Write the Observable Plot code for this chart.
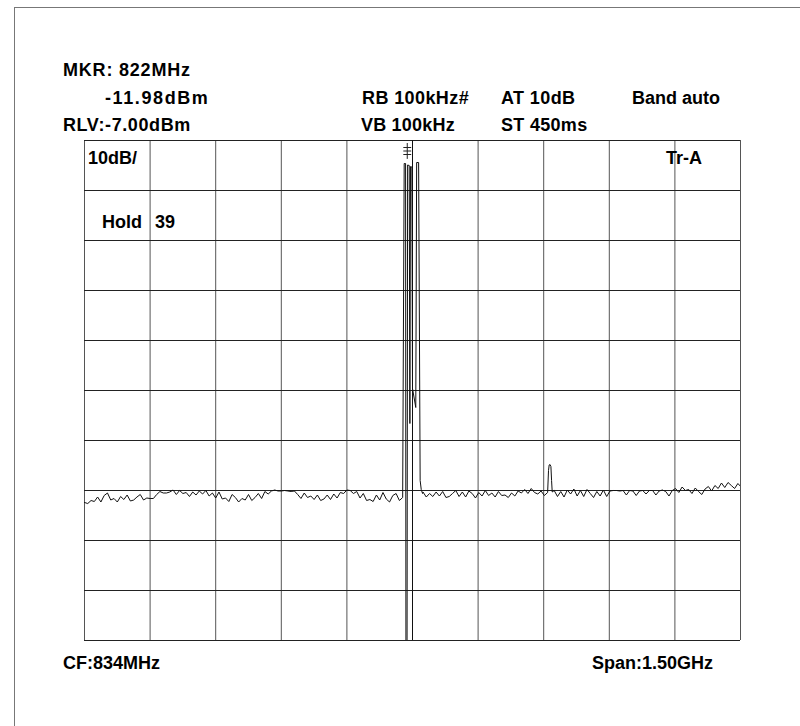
<!DOCTYPE html>
<html>
<head>
<meta charset="utf-8">
<script src="https://cdn.jsdelivr.net/npm/d3@7"></script>
<script src="https://cdn.jsdelivr.net/npm/@observablehq/plot@0.6"></script>
<style>
  html, body { margin: 0; padding: 0; background: #fff; }
  #wrap { position: relative; width: 800px; height: 726px; overflow: hidden; background: #fff; }
  #border { position: absolute; left: 14px; top: 7px; width: 800px; height: 740px;
            border-left: 1px solid #777; border-top: 1px solid #777; }
  .lbl { position: absolute; font-family: "Liberation Sans", Arial, sans-serif; font-weight: bold;
         font-size: 18px; line-height: 1; color: #000; white-space: nowrap; }
  #chart { position: absolute; left: 0; top: 0; }
</style>
</head>
<body>
<div id="wrap">
  <div id="border"></div>
  <div id="chart"></div>
</div>
<script>
// ---- Instrument settings ----
const centerFreqMHz = 834;
const spanMHz = 1500;
const refLevelDbm = -7;
const dbPerDiv = 10;
const markerFreqMHz = 822;
const markerLevelDbm = -11.98;

// Grid lines (10 divisions each way)
const gridFreqs = [84, 234, 384, 534, 684, 834, 984, 1134, 1284, 1434, 1584];
const gridLevels = [-7, -17, -27, -37, -47, -57, -67, -77, -87, -97, -107];

// Text labels
const headerLabels = [
  {text: "MKR: 822MHz", left: 63, top: 61, ls: 0.8},
  {text: "-11.98dBm", left: 105, top: 89, ls: 1.6},
  {text: "RB 100kHz#", left: 362, top: 89, ls: 0.4},
  {text: "AT 10dB", left: 501, top: 89, ls: 0.4},
  {text: "Band auto", left: 632, top: 89, ls: 0},
  {text: "RLV:-7.00dBm", left: 63, top: 116, ls: 0.6},
  {text: "VB 100kHz", left: 361, top: 116, ls: 0.2},
  {text: "ST 450ms", left: 501, top: 116, ls: 0.3},
  {text: "10dB/", left: 88, top: 149, ls: 0},
  {text: "Tr-A", left: 666, top: 149, ls: 0},
  {text: "Hold", left: 102, top: 213, ls: 0},
  {text: "39", left: 155, top: 213, ls: 0},
  {text: "CF:834MHz", left: 63, top: 654, ls: 0},
  {text: "Span:1.50GHz", left: 592, top: 654, ls: 0}
];

// ---- Trace: noise floor left of the carrier (sweep start 84 MHz, step 7.5 MHz) ----
const leftStartMHz = 84;
const sweepStepMHz = 7.5;
const leftNoise = [
  -79.4, -79.6, -79.0, -79.2, -78.3, -79.3, -78.0,
  -77.5, -78.9, -78.6, -79.3, -78.2, -78.8,
  -77.9, -79.1, -78.9, -78.3, -77.8, -78.9, -78.5,
  -78.6, -78.6, -77.8,
  -77.2, -77.5, -77.5, -77.3,
  -76.9, -77.8, -77.0, -77.6, -77.4, -78.2, -77.3, -77.9, -77.1, -77.7, -77.0, -78.1, -77.5,
  -78.5, -77.3, -78.7, -78.5, -79.2, -77.8, -78.4, -79.3, -78.6, -78.9, -77.8, -79.0, -78.4, -77.6, -78.6, -77.2, -77.7, -77.1,
  -76.9, -77.1, -77.1, -77.0, -77.1, -77.2, -77.1,
  -77.8, -78.6, -77.5, -78.4, -78.1, -78.8,
  -77.9, -79.0, -78.7, -77.9, -78.8, -77.7, -78.5, -77.4, -77.6,
  -76.9, -77.0, -77.6,
  -77.2, -78.5, -77.6, -79.0, -78.8, -79.2, -77.9, -78.9, -77.4, -78.7, -79.3, -78.0, -77.6,
  -79.0, -78.4
];

// Carrier burst around the centre (off-screen values drop below the floor)
const carrierFreqs = [815.0, 818.2, 819.0, 821.5, 822.8, 826.5, 828.0, 829.5, 832.5, 834.0, 841.5, 843.5, 848.0, 851.5, 854.0, 857.0];
const carrierLevels = [-11.6, -11.6, -115, -115, -11.9, -12.0, -63.6, -12.2, -12.3, -56.6, -60.4, -11.4, -11.4, -75.0, -76.8, -77.6];

// Noise floor right of the carrier
const rightStartMHz = 858;
const rightNoise = [
  -77.3, -78.3, -77.6, -78.2, -77.3,
  -78.1, -77.2, -78.4, -78.2, -77.6, -77.0, -78.2, -77.3, -78.3, -77.1, -77.6, -78.5, -77.4, -78.1, -77.0, -78.0,
  -77.5, -78.3, -77.2, -78.0, -77.9, -78.4, -77.5, -78.1, -77.1, -77.5, -76.8, -77.6, -76.6, -77.4,
  -77.7, -77.1, -78.0, -77.5, -77.4, -77.0, -78.2, -77.2, -78.3, -76.9,
  -77.7, -76.7, -78.1, -77.0, -78.2, -76.8, -77.6, -78.4, -77.2, -78.1, -76.9, -78.2,
  -77.1, -77.0, -77.0, -77.1, -77.0, -77.9, -77.0, -77.1, -78.0, -77.1, -77.0, -77.7, -77.0, -77.0, -77.9, -77.1, -76.9, -77.2, -78.1, -77.0,
  -76.6, -77.4, -76.3, -77.0, -76.8, -77.6, -76.5, -77.2, -77.8, -76.7, -76.2, -77.1, -76.0, -76.6, -75.5, -76.4, -75.4, -76.0, -76.6, -75.6, -76.3
];

// Small spurious signal near 1.15 GHz
const spurFreqs = [1143, 1145, 1146.5, 1148.5, 1150.5, 1152, 1153.5];
const spurLevels = [-77.4, -73.0, -71.9, -71.8, -72.2, -75.0, -77.3];

// ---- Build table ----
const trace = [];
leftNoise.forEach((v, i) => trace.push({f: leftStartMHz + i * sweepStepMHz, dbm: v}));
carrierFreqs.forEach((f, i) => trace.push({f, dbm: carrierLevels[i]}));
rightNoise.forEach((v, i) => {
  const f = rightStartMHz + i * sweepStepMHz;
  if (f < spurFreqs[0] || f > spurFreqs[spurFreqs.length - 1]) trace.push({f, dbm: v});
});
spurFreqs.forEach((f, i) => trace.push({f, dbm: spurLevels[i]}));
trace.sort((a, b) => a.f - b.f);

const fMin = centerFreqMHz - spanMHz / 2;
const fMax = centerFreqMHz + spanMHz / 2;
const yMin = refLevelDbm - 10 * dbPerDiv;

// Marker glyph (three bars with a stem, drawn just above the marker peak)
const markerBars = [-8.4, -9.1, -9.8];

const chart = Plot.plot({
  width: 800,
  height: 726,
  marginLeft: 84,
  marginRight: 60,
  marginTop: 140,
  marginBottom: 86,
  style: {background: "transparent", overflow: "visible"},
  x: {domain: [fMin, fMax], axis: null},
  y: {domain: [yMin, refLevelDbm], axis: null},
  marks: [
    Plot.ruleX(gridFreqs, {stroke: "#555", strokeWidth: 1}),
    Plot.ruleY(gridLevels, {stroke: "#222", strokeWidth: 1}),
    Plot.ruleX([centerFreqMHz], {stroke: "#111", strokeWidth: 1}),
    Plot.line(trace, {x: "f", y: "dbm", stroke: "#111", strokeWidth: 1, clip: true, curve: "linear"}),
    Plot.link(markerBars, {x1: () => markerFreqMHz - 9, x2: () => markerFreqMHz + 9, y1: d => d, y2: d => d, stroke: "#222", strokeWidth: 1}),
    Plot.ruleX([markerFreqMHz], {y1: -7.6, y2: markerLevelDbm + 1.2, stroke: "#222", strokeWidth: 1})
  ]
});
document.getElementById("chart").appendChild(chart);

const wrap = document.getElementById("wrap");
headerLabels.forEach(d => {
  const el = document.createElement("div");
  el.className = "lbl";
  el.textContent = d.text;
  el.style.left = d.left + "px";
  el.style.top = d.top + "px";
  el.style.letterSpacing = d.ls + "px";
  wrap.appendChild(el);
});
</script>
</body>
</html>
